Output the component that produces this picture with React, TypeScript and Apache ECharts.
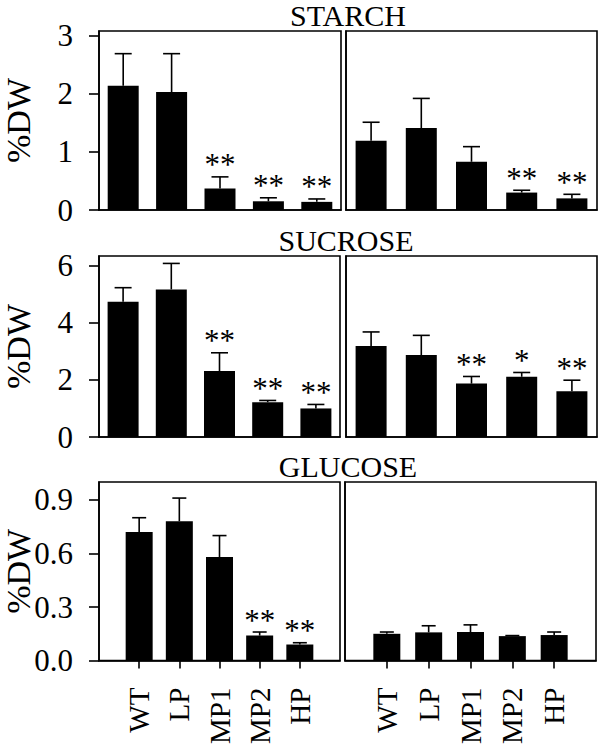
import React, { useEffect, useRef } from "react";
import * as echarts from "echarts";

const categories = ["WT", "LP", "MP1", "MP2", "HP"];
const paddedCategories = ["", "WT", "LP", "MP1", "MP2", "HP", ""];

const panelTitles = ["STARCH", "SUCROSE", "GLUCOSE"];

const starchLeft = [2.14, 2.03, 0.37, 0.15, 0.14];
const starchLeftErr = [0.55, 0.66, 0.2, 0.06, 0.05];
const starchLeftSig = ["", "", "**", "**", "**"];
const starchRight = [1.19, 1.41, 0.83, 0.3, 0.2];
const starchRightErr = [0.32, 0.51, 0.26, 0.04, 0.07];
const starchRightSig = ["", "", "", "**", "**"];

const sucroseLeft = [4.74, 5.17, 2.31, 1.22, 1.0];
const sucroseLeftErr = [0.49, 0.91, 0.64, 0.06, 0.14];
const sucroseLeftSig = ["", "", "**", "**", "**"];
const sucroseRight = [3.19, 2.87, 1.87, 2.11, 1.6];
const sucroseRightErr = [0.49, 0.69, 0.25, 0.15, 0.39];
const sucroseRightSig = ["", "", "**", "*", "**"];

const glucoseLeft = [0.72, 0.78, 0.58, 0.14, 0.09];
const glucoseLeftErr = [0.08, 0.13, 0.12, 0.02, 0.01];
const glucoseLeftSig = ["", "", "", "**", "**"];
const glucoseRight = [0.15, 0.158, 0.16, 0.137, 0.143];
const glucoseRightErr = [0.01, 0.037, 0.04, 0.003, 0.017];
const glucoseRightSig = ["", "", "", "", ""];

const starchTicks = [0, 1, 2, 3];
const sucroseTicks = [0, 2, 4, 6];
const glucoseTicks = [0, 0.3, 0.6, 0.9];
const yMax = [3.08, 6.34, 1.0];

const FONT = "Liberation Serif";

export default function App() {
  const ref = useRef<HTMLDivElement>(null);
  useEffect(() => {
    if (!ref.current) return;
    const chart = echarts.init(ref.current, null, { renderer: "svg" });

    const grids = [
      { left: 90, top: 31, width: 251, height: 179 },
      { left: 346, top: 31, width: 251, height: 179 },
      { left: 90, top: 256, width: 250, height: 181 },
      { left: 346, top: 256, width: 251, height: 181 },
      { left: 89, top: 482, width: 251, height: 180 },
      { left: 345, top: 482, width: 251, height: 180 },
    ].map((g) => ({
      ...g,
      show: true,
      borderColor: "#000",
      borderWidth: 1.6,
      backgroundColor: "transparent",
    }));

    const panels = [
      { vals: starchLeft, err: starchLeftErr, sig: starchLeftSig, row: 0, left: true },
      { vals: starchRight, err: starchRightErr, sig: starchRightSig, row: 0, left: false },
      { vals: sucroseLeft, err: sucroseLeftErr, sig: sucroseLeftSig, row: 1, left: true },
      { vals: sucroseRight, err: sucroseRightErr, sig: sucroseRightSig, row: 1, left: false },
      { vals: glucoseLeft, err: glucoseLeftErr, sig: glucoseLeftSig, row: 2, left: true },
      { vals: glucoseRight, err: glucoseRightErr, sig: glucoseRightSig, row: 2, left: false },
    ];
    const tickSets = [starchTicks, sucroseTicks, glucoseTicks];

    const xAxis = panels.map((p, i) => {
      const last = p.row === 2;
      return {
        type: "category",
        gridIndex: i,
        data: last ? paddedCategories : categories,
        boundaryGap: !last,
        axisLine: { show: true, lineStyle: { color: "#000", width: 1.6 } },
        axisTick: last
          ? {
              show: true,
              length: 8,
              inside: false,
              lineStyle: { color: "#000", width: 1.6 },
              interval: (_i: number, v: string) => v !== "",
            }
          : { show: false },
        axisLabel: last
          ? {
              show: true,
              rotate: 90,
              interval: 0,
              margin: 27,
              fontFamily: FONT,
              fontSize: 29,
              color: "#000",
            }
          : { show: false },
        splitLine: { show: false },
      };
    });

    const yAxis = panels.map((p, i) => ({
      type: "value",
      gridIndex: i,
      min: 0,
      max: yMax[p.row],
      name: p.left ? "%DW" : "",
      nameLocation: "middle",
      nameGap: 64,
      nameMoveOverlap: false,
      nameTextStyle: { fontFamily: FONT, fontSize: 34, color: "#000" },
      axisLine: { show: true, lineStyle: { color: "#000", width: 1.6 } },
      axisTick: p.left
        ? {
            show: true,
            length: 10,
            inside: false,
            customValues: tickSets[p.row],
            lineStyle: { color: "#000", width: 1.6 },
          }
        : { show: false },
      axisLabel: p.left
        ? {
            show: true,
            margin: 26,
            customValues: tickSets[p.row],
            fontFamily: FONT,
            fontSize: 31,
            color: "#000",
            formatter: (v: number) => (p.row === 2 ? v.toFixed(1) : String(v)),
          }
        : { show: false },
      splitLine: { show: false },
    }));

    const series: any[] = [];
    panels.forEach((p, i) => {
      const last = p.row === 2;
      const off = last ? 1 : 0;
      const barData = last ? ["-", ...p.vals, "-"] : p.vals;
      series.push({
        type: "bar",
        xAxisIndex: i,
        yAxisIndex: i,
        data: barData,
        barWidth: last ? 27 : 31,
        itemStyle: { color: "#000" },
        silent: true,
      });
      const capW = last ? 14 : 17;
      series.push({
        type: "custom",
        xAxisIndex: i,
        yAxisIndex: i,
        clip: false,
        silent: true,
        encode: { x: 0, y: [1, 2] },
        data: p.vals.map((v, k) => [k + off, v, p.err[k]]),
        renderItem: (params: any, api: any) => {
          const x = api.value(0);
          const m = api.value(1);
          const e = api.value(2);
          const s = p.sig[params.dataIndex];
          const p0 = api.coord([x, m]);
          const p1 = api.coord([x, m + e]);
          const style = { stroke: "#000", lineWidth: 1.6 };
          const children: any[] = [
            { type: "line", shape: { x1: p0[0], y1: p0[1], x2: p1[0], y2: p1[1] }, style },
            {
              type: "line",
              shape: { x1: p1[0] - capW / 2, y1: p1[1], x2: p1[0] + capW / 2, y2: p1[1] },
              style,
            },
          ];
          if (s) {
            children.push({
              type: "text",
              x: p1[0],
              y: p1[1] - 12,
              style: {
                text: s,
                fill: "#000",
                font: `31px ${FONT}`,
                textAlign: "center",
                textVerticalAlign: "middle",
              },
            });
          }
          return { type: "group", children };
        },
      });
    });

    const titleY = [15, 240, 466];
    const titleX = [348, 346, 348];

    chart.setOption({
      animation: false,
      grid: grids,
      xAxis,
      yAxis,
      series,
      graphic: panelTitles.map((t, k) => ({
        type: "text",
        x: titleX[k],
        y: titleY[k],
        style: {
          text: t,
          fill: "#000",
          font: `30px ${FONT}`,
          textAlign: "center",
          textVerticalAlign: "middle",
        },
      })),
    });
    return () => chart.dispose();
  }, []);
  return (
    <div
      ref={ref}
      style={{ position: "fixed", left: 0, top: 0, width: 600, height: 747, background: "#fff" }}
    />
  );
}
